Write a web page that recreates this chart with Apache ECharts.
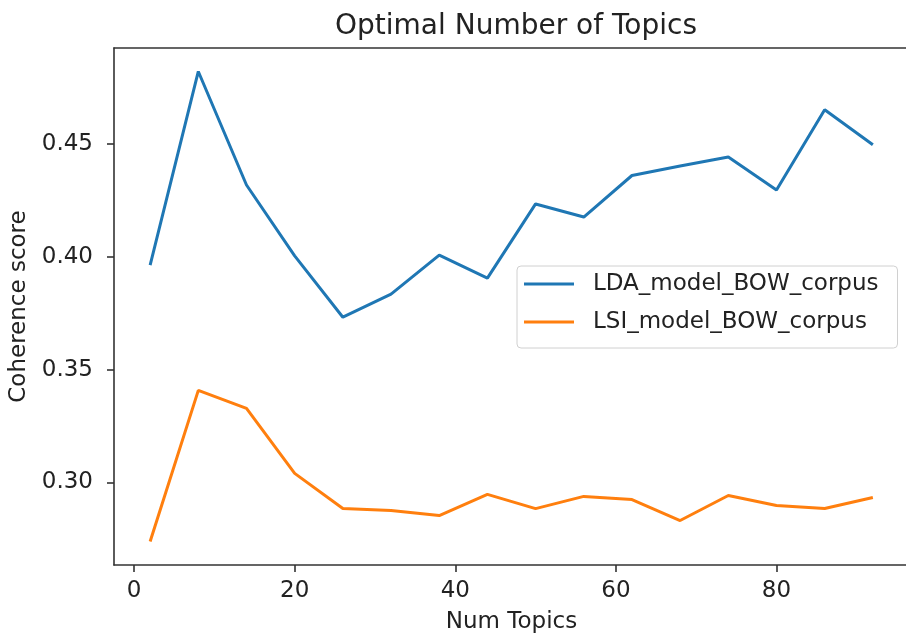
<!DOCTYPE html>
<html>
<head>
<meta charset="utf-8">
<title>Optimal Number of Topics</title>
<script src="https://cdn.jsdelivr.net/npm/echarts@6/dist/echarts.min.js"></script>
<style>
  html, body { margin: 0; padding: 0; background: #fff; }
  #main { width: 906px; height: 639px; }
</style>
</head>
<body>
<div id="main"></div>
<script>
// 数据：主题数与一致性得分
var numTopics = [2, 8, 14, 20, 26, 32, 38, 44, 50, 56, 62, 68, 74, 80, 86, 92];
var ldaScores = [0.3963, 0.4821, 0.4318, 0.4004, 0.3732, 0.3834, 0.4007, 0.3905,
                 0.4234, 0.4176, 0.4360, 0.4402, 0.4442, 0.4296, 0.4651, 0.4496];
var lsiScores = [0.2738, 0.3408, 0.3328, 0.3040, 0.2884, 0.2876, 0.2853, 0.2947,
                 0.2884, 0.2938, 0.2924, 0.2831, 0.2942, 0.2898, 0.2884, 0.2933];
var seriesNames = ['LDA_model_BOW_corpus', 'LSI_model_BOW_corpus'];
var xTicks = [0, 20, 40, 60, 80];
var yTicks = [0.30, 0.35, 0.40, 0.45];

function pairs(xs, ys) {
  return xs.map(function (x, i) { return [x, ys[i]]; });
}

var fontFamily = 'DejaVu Sans';
var spine = '#333';

var myChart = echarts.init(document.getElementById('main'), null, { renderer: 'canvas' });
myChart.setOption({
  animation: false,
  title: {
    text: 'Optimal Number of Topics',
    left: 511,
    top: 8,
    textAlign: 'center',
    textStyle: { fontFamily: fontFamily, fontSize: 28, fontWeight: 'normal', color: '#222' }
  },
  grid: {
    left: 114,
    top: 48,
    width: 795,
    height: 517,
    outerBoundsMode: 'none',
    containLabel: false
  },
  legend: {
    data: seriesNames,
    orient: 'vertical',
    left: 517,
    top: 266,
    padding: [0, 19, 8, 7],
    itemGap: 2,
    itemWidth: 50,
    itemHeight: 3,
    icon: 'rect',
    backgroundColor: '#fff',
    borderColor: '#d0d0d0',
    borderWidth: 1,
    borderRadius: 4,
    textStyle: {
      fontFamily: fontFamily,
      fontSize: 23,
      color: '#222',
      lineHeight: 36,
      padding: [0, 0, 0, 14]
    }
  },
  xAxis: [
    {
      type: 'value',
      min: -2.5,
      max: 96.5,
      name: 'Num Topics',
      nameLocation: 'middle',
      nameGap: 46,
      nameTextStyle: { fontFamily: fontFamily, fontSize: 23, color: '#222' },
      axisLine: { show: true, onZero: false, lineStyle: { color: spine, width: 1.6 } },
      axisTick: { show: true, length: 7, customValues: xTicks, lineStyle: { color: spine, width: 1.6 } },
      axisLabel: {
        customValues: xTicks,
        margin: 15,
        fontFamily: fontFamily,
        fontSize: 23,
        color: '#222'
      },
      splitLine: { show: false }
    },
    {
      // 顶部边框
      type: 'value',
      position: 'top',
      min: -2.5,
      max: 96.5,
      axisLine: { show: true, onZero: false, lineStyle: { color: spine, width: 1.6 } },
      axisTick: { show: false },
      axisLabel: { show: false },
      splitLine: { show: false }
    }
  ],
  yAxis: {
    type: 'value',
    min: 0.2634,
    max: 0.4925,
    name: 'Coherence score',
    nameLocation: 'middle',
    nameGap: 82,
    nameTextStyle: { fontFamily: fontFamily, fontSize: 23, color: '#222' },
    axisLine: { show: true, onZero: false, lineStyle: { color: spine, width: 1.6 } },
    axisTick: { show: true, length: 7, customValues: yTicks, lineStyle: { color: spine, width: 1.6 } },
    axisLabel: {
      customValues: yTicks,
      margin: 21,
      fontFamily: fontFamily,
      fontSize: 23,
      color: '#222',
      formatter: function (v) { return v.toFixed(2); }
    },
    splitLine: { show: false }
  },
  series: [
    {
      name: seriesNames[0],
      type: 'line',
      symbol: 'none',
      color: '#1f77b4',
      lineStyle: { color: '#1f77b4', width: 3 },
      data: pairs(numTopics, ldaScores)
    },
    {
      name: seriesNames[1],
      type: 'line',
      symbol: 'none',
      color: '#ff7f0e',
      lineStyle: { color: '#ff7f0e', width: 3 },
      data: pairs(numTopics, lsiScores)
    }
  ]
});
</script>
</body>
</html>
